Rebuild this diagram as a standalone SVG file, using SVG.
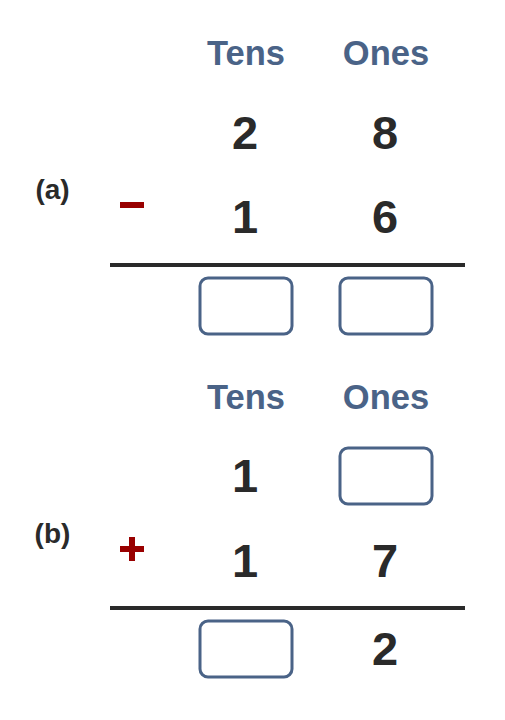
<svg xmlns="http://www.w3.org/2000/svg" width="505" height="720" viewBox="0 0 505 720">
<style>
.hdr{font-family:"Liberation Sans",Arial,sans-serif;font-weight:bold;font-size:34.5px;fill:#4a6387;text-anchor:middle}
.dig{font-family:"Liberation Sans",Arial,sans-serif;font-weight:bold;font-size:47px;fill:#2a2a2a;text-anchor:middle}
.lbl{font-family:"Liberation Sans",Arial,sans-serif;font-weight:bold;font-size:28px;fill:#2a2a2a;text-anchor:middle}
.box{fill:#ffffff;stroke:#4a6387;stroke-width:3}
.rule{stroke:#2a2a2a;stroke-width:4}
.op{fill:#990000}
</style>
<rect width="505" height="720" fill="#ffffff"/>
<g id="part-a">
  <text class="lbl" x="52.5" y="199">(a)</text>
  <text class="hdr" x="246" y="65">Tens</text>
  <text class="hdr" x="386" y="65">Ones</text>
  <text class="dig" x="245" y="149">2</text>
  <text class="dig" x="385" y="149">8</text>
  <rect class="op" x="120" y="202" width="24" height="6"/>
  <text class="dig" x="245" y="233">1</text>
  <text class="dig" x="385" y="233">6</text>
  <line class="rule" x1="110" y1="265" x2="465" y2="265"/>
  <rect class="box" x="200" y="278" width="92" height="56" rx="8"/>
  <rect class="box" x="340" y="278" width="92" height="56" rx="8"/>
</g>
<g id="part-b">
  <text class="lbl" x="52.5" y="543">(b)</text>
  <text class="hdr" x="246" y="409">Tens</text>
  <text class="hdr" x="386" y="409">Ones</text>
  <text class="dig" x="245" y="492">1</text>
  <rect class="box" x="340" y="448" width="92" height="56" rx="8"/>
  <rect class="op" x="120" y="546" width="24" height="6"/>
  <rect class="op" x="129" y="537" width="6" height="24"/>
  <text class="dig" x="245" y="577">1</text>
  <text class="dig" x="385" y="577">7</text>
  <line class="rule" x1="110" y1="608" x2="465" y2="608"/>
  <rect class="box" x="200" y="621" width="92" height="56" rx="8"/>
  <text class="dig" x="385" y="665">2</text>
</g>
<g id="connectors"></g>
</svg>
